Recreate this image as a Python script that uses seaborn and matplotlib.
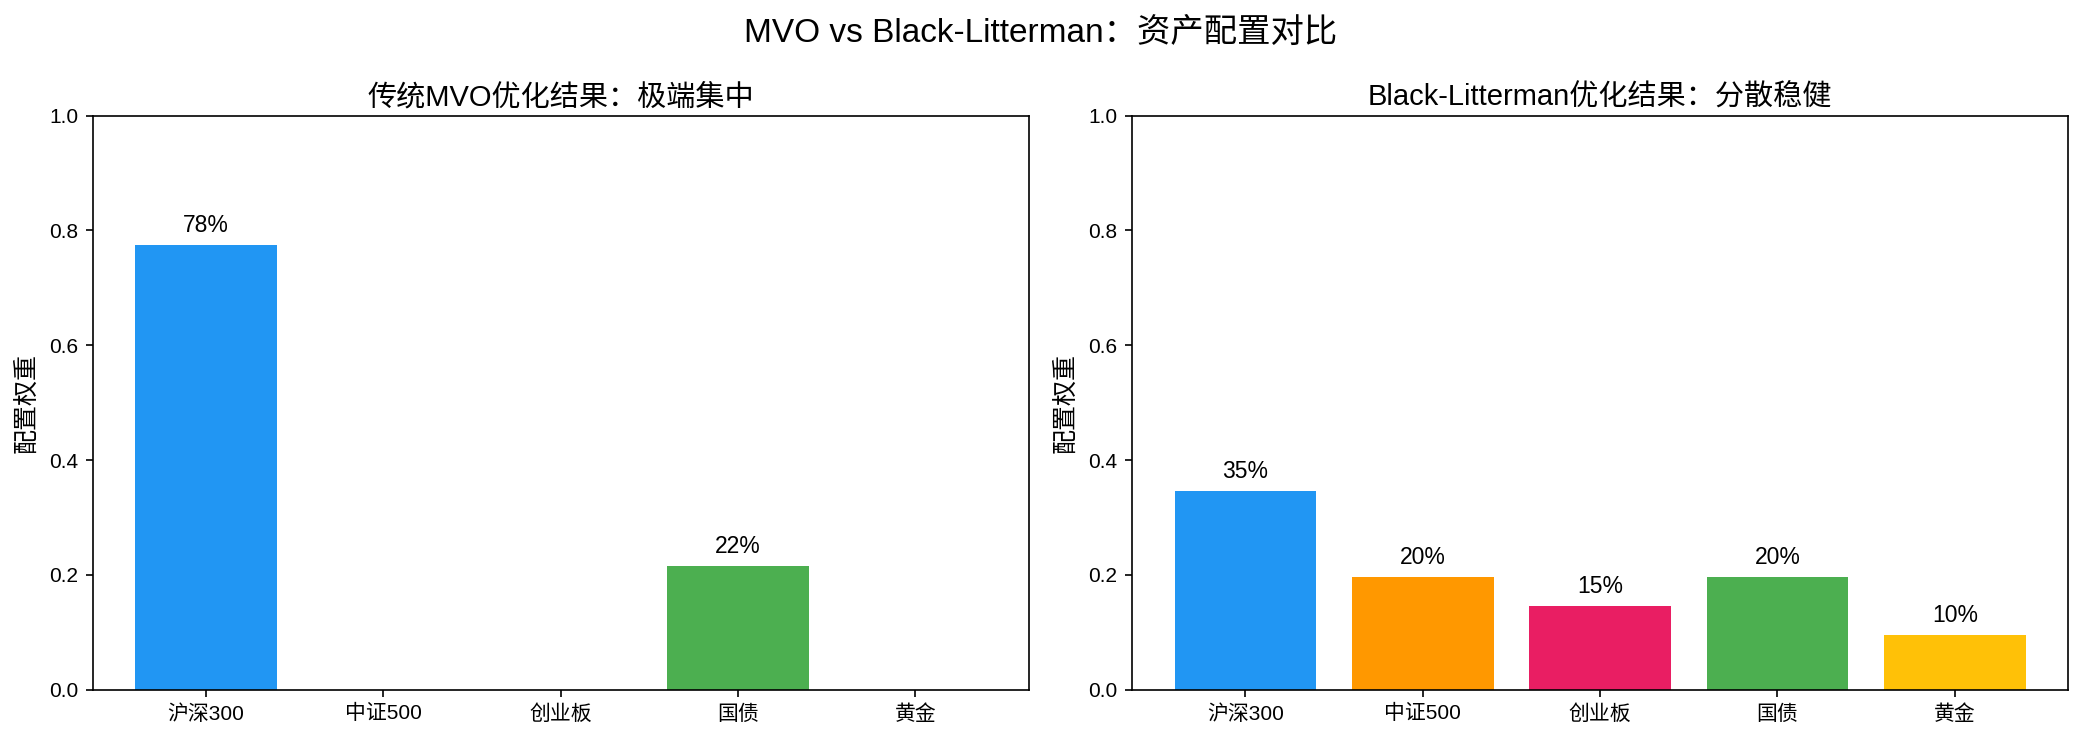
import matplotlib
matplotlib.use("Agg")
import matplotlib.pyplot as plt
import seaborn as sns
import pandas as pd

plt.rcParams['font.family'] = ['Liberation Sans', 'Noto Sans CJK SC', 'DejaVu Sans']
plt.rcParams['axes.unicode_minus'] = False

assets = ['沪深300', '中证500', '创业板', '国债', '黄金']
colors = ['#2196F3', '#FF9800', '#E91E63', '#4CAF50', '#FFC107']
mvo_weights = [0.775, 0.0, 0.0, 0.216, 0.0]
bl_weights = [0.347, 0.197, 0.146, 0.197, 0.096]

suptitle = 'MVO vs Black-Litterman：资产配置对比'
titles = ['传统MVO优化结果：极端集中', 'Black-Litterman优化结果：分散稳健']
ylabel = '配置权重'

fig = plt.figure(figsize=(2082 / 150, 742 / 150), dpi=150)
ax1 = fig.add_axes([0.0445, 0.0705, 0.4497, 0.7736])
ax2 = fig.add_axes([0.5437, 0.0705, 0.4497, 0.7736])

palette = dict(zip(assets, colors))
for ax, weights, title in [(ax1, mvo_weights, titles[0]), (ax2, bl_weights, titles[1])]:
    df = pd.DataFrame({'asset': assets, 'weight': weights})
    sns.barplot(data=df, x='asset', y='weight', hue='asset', palette=palette,
                order=assets, hue_order=assets, legend=False, saturation=1,
                width=0.8, ax=ax)
    ax.set_xlim(-0.64, len(assets) - 1 + 0.64)
    ax.set_ylim(0, 1.0)
    ax.set_title(title, fontsize=14, pad=5)
    ax.set_ylabel(ylabel, fontsize=12, labelpad=5)
    ax.set_xlabel('')
    ax.tick_params(labelsize=10)
    for i, v in enumerate(weights):
        if v > 0.01:
            ax.text(i, v + 0.013, f'{v:.0%}', ha='center', va='bottom', fontsize=11)

fig.suptitle(suptitle, fontsize=16, y=0.976)
fig.savefig('out.png', dpi=150)
